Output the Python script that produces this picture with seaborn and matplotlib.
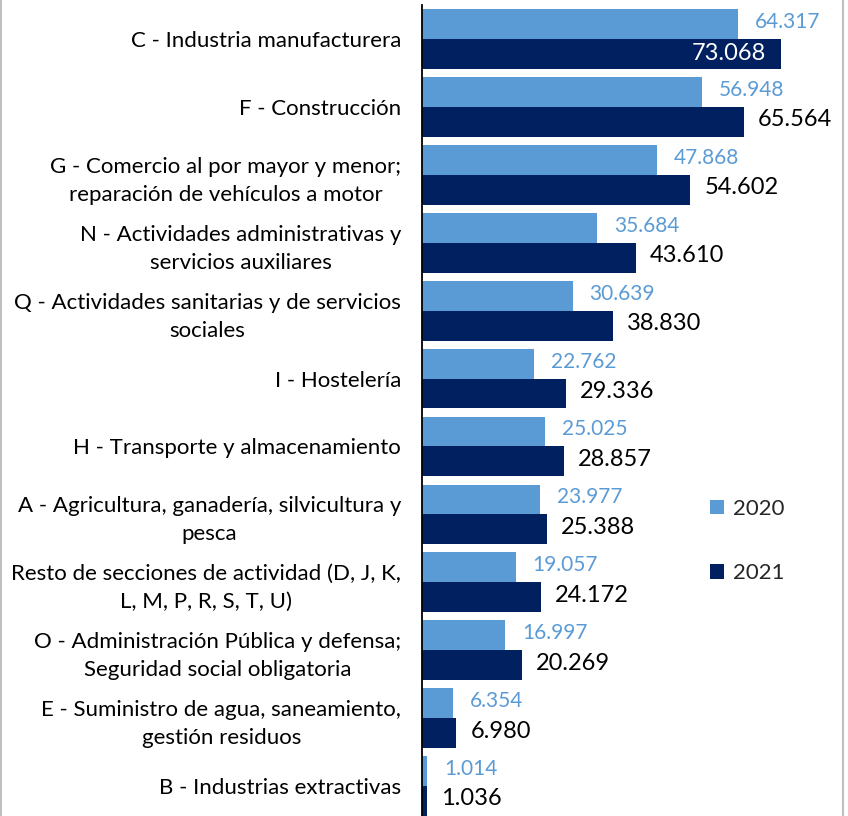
import matplotlib
matplotlib.use("Agg")
import matplotlib.pyplot as plt
import seaborn as sns
import pandas as pd
from matplotlib.patches import Patch
from matplotlib.lines import Line2D

categories = [
    "C - Industria manufacturera",
    "F - Construcción",
    "G - Comercio al por mayor y menor;\nreparación de vehículos a motor",
    "N - Actividades administrativas y\nservicios auxiliares",
    "Q - Actividades sanitarias y de servicios\nsociales",
    "I - Hostelería",
    "H - Transporte y almacenamiento",
    "A - Agricultura, ganadería, silvicultura y\npesca",
    "Resto de secciones de actividad (D, J, K,\nL, M, P, R, S, T, U)",
    "O - Administración Pública y defensa;\nSeguridad social obligatoria",
    "E - Suministro de agua, saneamiento,\ngestión residuos",
    "B - Industrias extractivas",
]
values_2020 = [64317, 56948, 47868, 35684, 30639, 22762, 25025, 23977, 19057, 16997, 6354, 1014]
values_2021 = [73068, 65564, 54602, 43610, 38830, 29336, 28857, 25388, 24172, 20269, 6980, 1036]
years = ["2020", "2021"]
colors = ["#5B9BD5", "#002060"]
label_colors = ["#5B9BD5", "#000000"]

df = pd.DataFrame({
    "cat": categories * 2,
    "val": values_2020 + values_2021,
    "year": [years[0]] * len(categories) + [years[1]] * len(categories),
})

sns.set_theme(style="white")
plt.rcParams['font.family'] = ['Lato', 'DejaVu Sans']

W, H = 848, 816
fig = plt.figure(figsize=(W / 100, H / 100), dpi=100)
ax = fig.add_axes([422 / W, 0, 421 / W, 811 / H])

sns.barplot(data=df, y="cat", x="val", hue="year", hue_order=years, palette=colors,
            orient="h", width=0.88, saturation=1, ax=ax, legend=False,
            edgecolor="none", linewidth=0)

ax.set_xlim(0, 85700)
ax.set_ylim(11.44, -0.50)
ax.set_xlabel("")
ax.set_ylabel("")
ax.set_xticks([])
for s in ["top", "right", "bottom"]:
    ax.spines[s].set_visible(False)
ax.spines["left"].set_color("black")
ax.spines["left"].set_linewidth(1.3)

ax.tick_params(axis="y", length=0, pad=15)
for t in ax.get_yticklabels():
    t.set_fontsize(16)
    t.set_multialignment("center")
    t.set_linespacing(1.5)
    t.set_color("black")

def fmt(v):
    return f"{int(v):,}".replace(",", ".")

sizes = [15, 17]
offs = [17, 14]
for k, cont in enumerate(ax.containers):
    for bar in cont:
        w = bar.get_width()
        yc = bar.get_y() + bar.get_height() / 2
        if w > 70000:
            ax.annotate(fmt(w), xy=(w, yc), xytext=(-15 * 0.72, 0), textcoords="offset points",
                        ha="right", va="center", fontsize=sizes[k], color="white")
        else:
            ax.annotate(fmt(w), xy=(w, yc), xytext=(offs[k] * 0.72, 1.5), textcoords="offset points",
                        ha="left", va="center", fontsize=sizes[k], color=label_colors[k])

handles = [Patch(facecolor=c, edgecolor="none") for c in colors]
fig.legend(handles, years, loc="center left", bbox_to_anchor=(710 / W, 1 - 541 / H),
           frameon=False, fontsize=16, handlelength=0.64, handleheight=0.64,
           handletextpad=0.4, labelspacing=2.0, borderpad=0, borderaxespad=0)

for xpos in [1 / W, 843 / W]:
    fig.add_artist(Line2D([xpos, xpos], [0, 1], transform=fig.transFigure,
                          color="#BFBFBF", linewidth=1.5))

fig.savefig("out.png", dpi=100)
